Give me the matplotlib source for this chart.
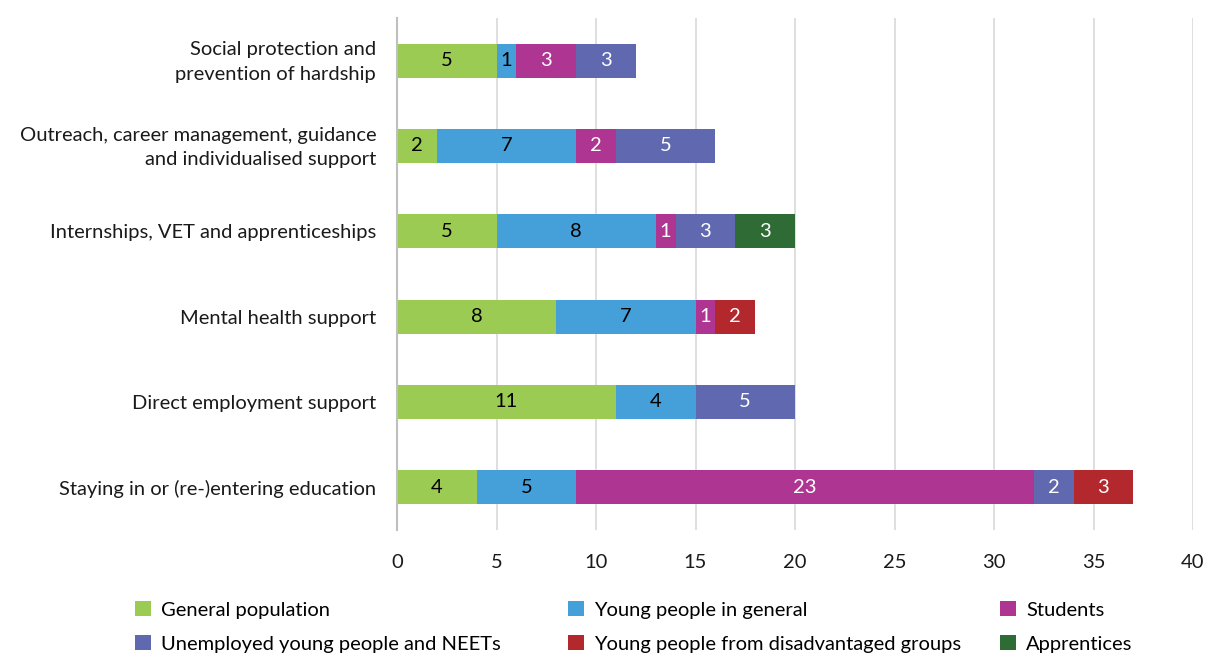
import numpy as np
import matplotlib.pyplot as plt
import matplotlib.transforms as mtransforms

plt.rcParams['font.family'] = ['Lato', 'DejaVu Sans']
FS = 14.5

# categories, top to bottom
categories = ['Social protection and\nprevention of hardship',
              'Outreach, career management, guidance\nand individualised support',
              'Internships, VET and apprenticeships',
              'Mental health support',
              'Direct employment support',
              'Staying in or (re-)entering education']

general_population = [5, 2, 5, 8, 11, 4]
young_people_general = [1, 7, 8, 7, 4, 5]
students = [3, 2, 1, 1, 0, 23]
unemployed_neets = [3, 5, 3, 0, 5, 2]
disadvantaged = [0, 0, 0, 2, 0, 3]
apprentices = [0, 0, 3, 0, 0, 0]

series = [
    ('General population', general_population, '#9BCB53', 'black'),
    ('Young people in general', young_people_general, '#459FD8', 'black'),
    ('Students', students, '#AF3592', 'white'),
    ('Unemployed young people and NEETs', unemployed_neets, '#6069B0', 'white'),
    ('Young people from disadvantaged groups', disadvantaged, '#B3282D', 'white'),
    ('Apprentices', apprentices, '#2E6B35', 'white'),
]

fig = plt.figure(figsize=(12.05, 6.53), dpi=100)
ax = fig.add_axes([397/1205, 1-530/653, (1193-397)/1205, (530-18)/653])

y = np.arange(len(categories))
left = np.zeros(len(categories))
handles = []
for name, vals, col, tcol in series:
    vals = np.array(vals, dtype=float)
    bars = ax.barh(y, vals, left=left, height=0.4, color=col, label=name, zorder=3)
    handles.append(bars)
    for yi, (l, v) in enumerate(zip(left, vals)):
        if v > 0:
            ax.text(l + v/2, yi, str(int(v)), ha='center', va='center',
                    color=tcol, fontsize=FS, zorder=4)
    left += vals

ax.set_xlim(0, 40)
ax.set_ylim(5.5, -0.5)
ax.set_xticks(range(0, 41, 5))
ax.set_yticks(y)
ax.set_yticklabels(categories, ha='right', fontsize=FS, color='#1a1a1a', linespacing=1.55)
ax.tick_params(axis='y', length=0, pad=15)
ax.tick_params(axis='x', length=0, pad=17, labelsize=FS, labelcolor='#1a1a1a')
# nudge two-line labels up a bit so they sit centred on the bar
for lab in ax.get_yticklabels():
    if '\n' in lab.get_text():
        lab.set_transform(lab.get_transform() +
                          mtransforms.ScaledTranslation(0, 4/100, fig.dpi_scale_trans))
ax.grid(axis='x', color='#D9D9D9', linewidth=1.2, zorder=0)
for s in ['top', 'right', 'bottom']:
    ax.spines[s].set_visible(False)
ax.spines['left'].set_color('#BFBFBF')
ax.spines['left'].set_linewidth(1.5)
ax.spines['left'].set_zorder(5)

# legend in three columns
cols = [(0, 3), (1, 4), (2, 5)]
xs = [135, 568, 1000]
for (a, b), x0 in zip(cols, xs):
    leg = fig.legend([handles[a], handles[b]], [series[a][0], series[b][0]],
                     loc='upper left', bbox_to_anchor=(x0/1205, 1-601/653),
                     frameon=False, fontsize=FS, handlelength=0.8, handleheight=0.8,
                     handletextpad=0.5, labelspacing=0.8, borderaxespad=0, borderpad=0)

fig.savefig('out.png', dpi=100)
